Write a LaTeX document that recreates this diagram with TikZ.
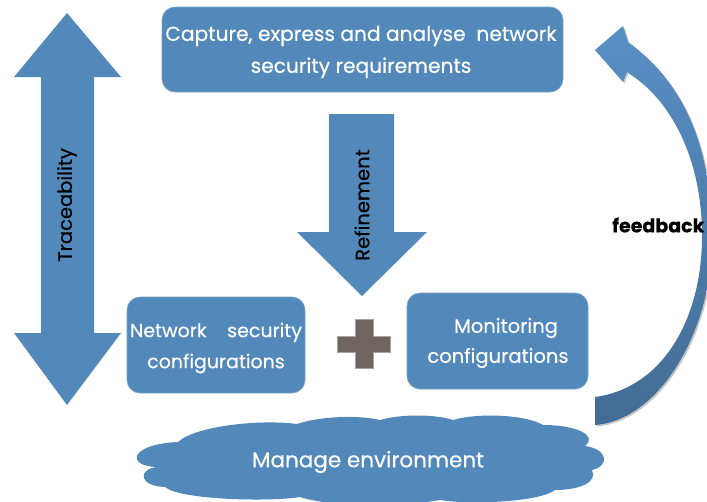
\documentclass[tikz,border=0pt]{standalone}
\usepackage{fontspec}
\setmainfont{Poppins}[FakeBold=0.3]
\definecolor{boxblue}{RGB}{83,137,186}
\definecolor{plusgray}{RGB}{110,101,99}
\definecolor{fbtop}{RGB}{88,143,197}
\definecolor{fbbot}{RGB}{66,108,148}
\begin{document}
\begin{tikzpicture}[x=1pt,y=-1pt,
  shapefill/.style={fill=boxblue,draw=none},
  boxtext/.style={text=white,align=center,inner sep=0pt},
  arrowlabel/.style={text=black,inner sep=0pt,rotate=90,font=\fontsize{19.5}{22}\selectfont},
  roundbox/.style={fill=boxblue,draw=boxblue!80!white,line width=0.6pt,rounded corners=13pt}]
\useasboundingbox (0,0) rectangle (707,501);

% top box
\draw[roundbox] (162,7) rectangle (563,92);
\node[boxtext,font=\fontsize{20.2}{32}\selectfont] (req) at (361,52)
  {Capture, express and analyse\ \ network\\security requirements};

% traceability double arrow
\fill[shapefill] (67,13) -- (121,77) -- (94,77) -- (94,333) -- (121,333) -- (67,405)
  -- (14,333) -- (41,333) -- (41,77) -- (14,77) -- cycle;
\node[arrowlabel] (trace) at (67,205) {Traceability};

% refinement arrow
\fill[shapefill] (329,114) -- (394,114) -- (394,232) -- (427,232) -- (362,296)
  -- (297,232) -- (329,232) -- cycle;
\node[arrowlabel] (refine) at (362,205) {Refinement};

% bottom boxes
\draw[roundbox] (127,297) rectangle (305,393);
\node[boxtext,font=\fontsize{19}{31}\selectfont] (netsec) at (216,348)
  {\makebox[172pt][s]{Network security}\\configurations};
\draw[roundbox] (407,293) rectangle (588,389);
\node[boxtext,font=\fontsize{19.5}{30}\selectfont] (mon) at (498,343)
  {\hspace*{16pt}Monitoring\\configurations};

% plus sign
\draw[fill=plusgray,draw=plusgray!60!white,line width=0.8pt]
  (355,319) -- (373,319) -- (373,336) -- (390,336) -- (390,352) -- (373,352)
  -- (373,368) -- (355,368) -- (355,352) -- (337,352) -- (337,336) -- (355,336) -- cycle;

% cloud
\fill[boxblue] (157,467) .. controls (125,466) and (130,444) .. (178,442)
  .. controls (195,426) and (260,419) .. (297,424)
  .. controls (320,416) and (360,415) .. (380,420)
  .. controls (400,414) and (435,414) .. (453,420)
  .. controls (475,413) and (525,414) .. (543,425)
  .. controls (578,425) and (598,436) .. (585,446)
  .. controls (608,449) and (610,466) .. (592,470)
  .. controls (598,482) and (580,490) .. (555,490)
  .. controls (540,502) and (470,505) .. (440,500)
  .. controls (400,507) and (330,507) .. (300,497)
  .. controls (270,502) and (180,500) .. (165,487)
  .. controls (138,486) and (138,469) .. (157,467) -- cycle;
\node[boxtext,font=\fontsize{21.5}{24}\selectfont] (env) at (368,462) {Manage environment};

% feedback curved arrow
\fill[gray!45] ([shift={(1.5,1.5)}]595,425) .. controls ++(65,-5) and ++(0,90) .. ++(117,-185)
  .. controls ++(0,-100) and ++(52,38) .. ++(-84,-198) -- ++(-5,-16) -- ++(-28,24)
  -- ++(28,32) -- ++(4,-10) .. controls ++(45,28) and ++(0,-76) .. ++(75,164)
  .. controls ++(0,84) and ++(67,-9) .. ++(-107,161) -- cycle;
\shade[top color=fbtop,bottom color=fbbot] (595,425) .. controls (660,420) and (712,330) .. (712,240)
  .. controls (712,140) and (680,80) .. (628,42) -- (623,26) -- (595,50) -- (623,82) -- (627,72)
  .. controls (672,100) and (702,160) .. (702,236)
  .. controls (702,320) and (662,388) .. (595,397) -- cycle;
\node[anchor=west,inner sep=0pt,font=\fontsize{19}{22}\selectfont\bfseries] (fb) at (612,225) {feedback};
\end{tikzpicture}
\end{document}
